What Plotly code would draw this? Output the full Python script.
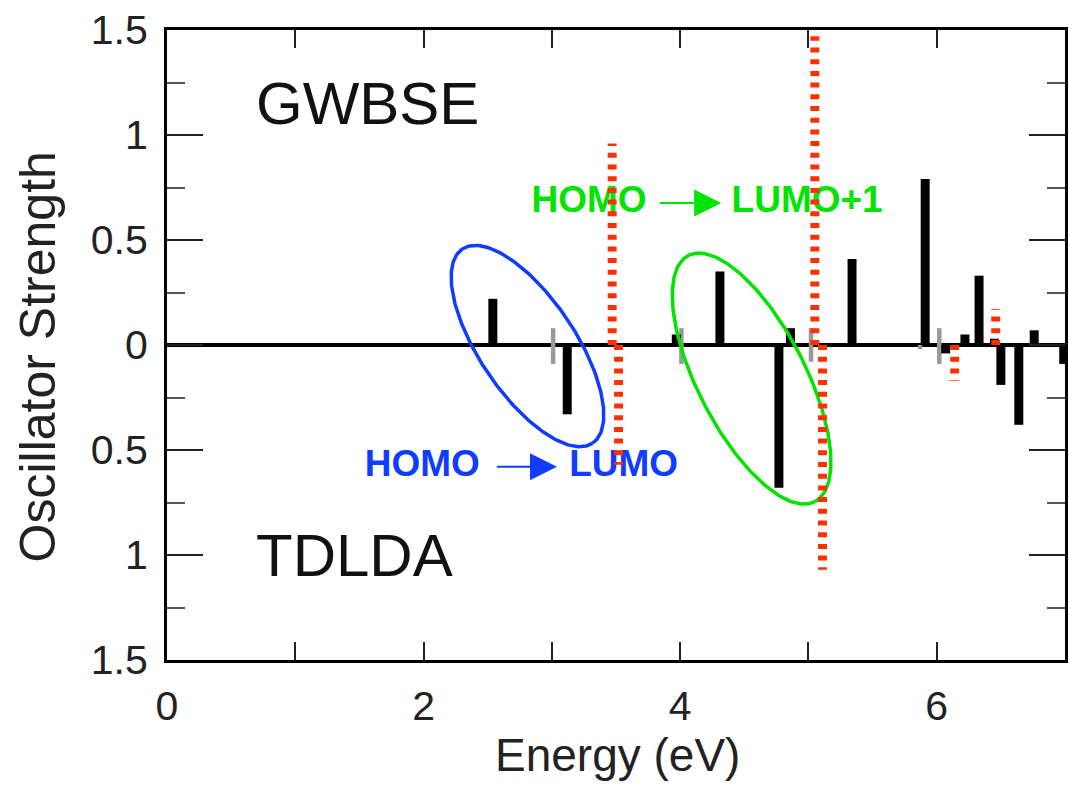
import numpy as np
import plotly.graph_objects as go

# GWBSE excitation energies (eV) and oscillator strengths, drawn upward
gw_energy = [2.54, 3.97, 4.31, 4.86, 5.34, 5.91, 6.22, 6.33, 6.45, 6.76]
gw_strength = [0.22, 0.05, 0.35, 0.08, 0.41, 0.79, 0.05, 0.33, 0.03, 0.07]

# TDLDA excitation energies (eV) and oscillator strengths, drawn downward
td_energy = [3.12, 4.77, 6.07, 6.50, 6.64, 6.99]
td_strength = [0.33, 0.68, 0.04, 0.19, 0.38, 0.09]

# weak (grey) transitions
gw_weak_energy = [3.01, 4.01, 5.02, 6.02]
gw_weak_strength = [0.08, 0.08, 0.08, 0.08]
td_weak_energy = [3.01, 4.01, 5.02, 5.87, 6.02]
td_weak_strength = [0.09, 0.09, 0.08, 0.02, 0.09]

# red dotted lines
gw_red_energy = [3.47, 5.05, 6.46]
gw_red_strength = [0.96, 1.47, 0.17]
td_red_energy = [3.52, 5.11, 6.14]
td_red_strength = [0.57, 1.07, 0.17]

y_ticks = [-1.5, -1.0, -0.5, 0.0, 0.5, 1.0, 1.5]
y_ticktext = ["1.5", "1", "0.5", "0", "0.5", "1", "1.5"]
y_minor = [-1.25, -0.75, -0.25, 0.25, 0.75, 1.25]
x_ticks = [0, 1, 2, 3, 4, 5, 6, 7]
x_ticktext = ["0", "", "2", "", "4", "", "6", ""]

FONT = "Liberation Sans, Arial, Helvetica, sans-serif"
GREEN = "#00e400"
BLUE = "#0f3cff"
RED = "#ff3000"

# figure geometry
FIG_W, FIG_H = 1069, 785
M_L, M_R, M_T, M_B = 167, 1, 30, 125
X_RANGE = (0, 7)
Y_RANGE = (-1.5, 1.5)
PX_PER_X = (FIG_W - M_L - M_R) / (X_RANGE[1] - X_RANGE[0])
PX_PER_Y = (FIG_H - M_T - M_B) / (Y_RANGE[1] - Y_RANGE[0])


def stems(energy, strength, sign):
    xs, ys = [], []
    for e, s in zip(energy, strength):
        xs += [e, e, None]
        ys += [0, sign * s, None]
    return xs, ys


def ellipse(cx, cy, a_px, b_px, tilt_deg, n=240):
    """Tilted ellipse given in screen pixels, centred at a data point."""
    t = np.linspace(0, 2 * np.pi, n)
    th = np.radians(tilt_deg)
    dx = a_px * np.cos(th) * np.cos(t) - b_px * np.sin(th) * np.sin(t)
    dy = a_px * np.sin(th) * np.cos(t) + b_px * np.cos(th) * np.sin(t)
    return cx + dx / PX_PER_X, cy - dy / PX_PER_Y


fig = go.Figure()

# grey weak transitions
fig.add_trace(go.Bar(x=gw_weak_energy, y=gw_weak_strength, width=0.035,
                     marker=dict(color="#999999", line=dict(width=0))))
fig.add_trace(go.Bar(x=td_weak_energy, y=[-v for v in td_weak_strength], width=0.035,
                     marker=dict(color="#999999", line=dict(width=0))))

# GWBSE / TDLDA sticks
fig.add_trace(go.Bar(x=gw_energy, y=gw_strength, width=0.07,
                     marker=dict(color="black", line=dict(width=0))))
fig.add_trace(go.Bar(x=td_energy, y=[-v for v in td_strength], width=0.07,
                     marker=dict(color="black", line=dict(width=0))))

# circled transitions
bx, by = ellipse(2.81, -0.005, 117, 48, 56)
fig.add_trace(go.Scatter(x=bx, y=by, mode="lines",
                         line=dict(color=BLUE, width=3.5)))
gx, gy = ellipse(4.557, -0.16, 138.5, 54, 62.7)
fig.add_trace(go.Scatter(x=gx, y=gy, mode="lines",
                         line=dict(color=GREEN, width=3.5)))

# transition labels
label_font = dict(family=FONT, size=37, weight="bold")
fig.add_trace(go.Scatter(x=[3.29, 4.99], y=[0.676, 0.676], mode="text",
                         text=["HOMO", "LUMO+1"],
                         textfont=dict(label_font, color=GREEN)))
fig.add_trace(go.Scatter(x=[1.99, 3.56], y=[-0.58, -0.58], mode="text",
                         text=["HOMO", "LUMO"],
                         textfont=dict(label_font, color=BLUE)))

# red dotted lines
rx, ry = stems(gw_red_energy, gw_red_strength, 1)
fig.add_trace(go.Scatter(x=rx, y=ry, mode="lines",
                         line=dict(color=RED, width=9, dash="5px,6.7px")))
rx, ry = stems(td_red_energy, td_red_strength, -1)
fig.add_trace(go.Scatter(x=rx, y=ry, mode="lines",
                         line=dict(color=RED, width=9, dash="5px,6.7px")))

annotations = [
    # arrows between the orbital labels
    dict(x=4.32, y=0.676, ax=3.83, ay=0.676, xref="x", yref="y", axref="x", ayref="y",
         showarrow=True, arrowhead=2, arrowsize=2.7, arrowwidth=2, arrowcolor=GREEN, text=""),
    dict(x=3.04, y=-0.58, ax=2.56, ay=-0.58, xref="x", yref="y", axref="x", ayref="y",
         showarrow=True, arrowhead=2, arrowsize=2.7, arrowwidth=2, arrowcolor=BLUE, text=""),
    # panel names
    dict(x=0.68, y=1.152, xref="x", yref="y", text="GWBSE", showarrow=False,
         xanchor="left", yanchor="middle", font=dict(family=FONT, size=60, color="#111")),
    dict(x=0.68, y=-1.0, xref="x", yref="y", text="TDLDA", showarrow=False,
         xanchor="left", yanchor="middle", font=dict(family=FONT, size=60, color="#111")),
    # axis titles
    dict(x=-(M_L - 38) / (FIG_W - M_L - M_R), y=(FIG_H - M_B - 357) / (FIG_H - M_T - M_B),
         xref="paper", yref="paper", text="Oscillator Strength", textangle=-90,
         showarrow=False, xanchor="center", yanchor="middle",
         font=dict(family=FONT, size=50, color="#222")),
    dict(x=(619.5 - M_L) / (FIG_W - M_L - M_R), y=(FIG_H - M_B - 755) / (FIG_H - M_T - M_B),
         xref="paper", yref="paper", text="Energy (eV)", showarrow=False,
         xanchor="center", yanchor="middle",
         font=dict(family=FONT, size=46, color="#222")),
]

fig.update_layout(
    width=FIG_W, height=FIG_H,
    margin=dict(l=M_L, r=M_R, t=M_T, b=M_B, pad=0),
    paper_bgcolor="white", plot_bgcolor="white",
    showlegend=False, barmode="overlay",
    annotations=annotations,
    xaxis=dict(
        range=list(X_RANGE), showgrid=False, zeroline=False,
        showline=True, linecolor="black", linewidth=3, mirror="ticks",
        ticks="inside", ticklen=18, tickwidth=2, tickcolor="#222",
        tickvals=x_ticks, ticktext=x_ticktext,
        tickfont=dict(family=FONT, size=41, color="#222"),
        ticklabelstandoff=8,
    ),
    yaxis=dict(
        range=list(Y_RANGE), showgrid=False,
        zeroline=True, zerolinecolor="black", zerolinewidth=4,
        showline=True, linecolor="black", linewidth=3, mirror="ticks",
        ticks="inside", ticklen=36, tickwidth=2, tickcolor="#222",
        tickvals=y_ticks, ticktext=y_ticktext,
        tickfont=dict(family=FONT, size=41, color="#222"),
        ticklabelstandoff=8,
        minor=dict(tickvals=y_minor, ticks="inside", ticklen=18, tickwidth=2,
                   tickcolor="#555"),
    ),
)

fig.write_html("out.html")
